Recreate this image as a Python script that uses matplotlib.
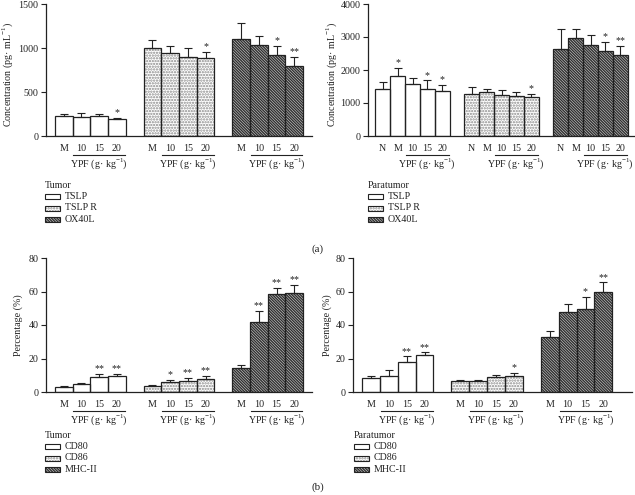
import matplotlib
matplotlib.use("Agg")
import matplotlib.pyplot as plt
import numpy as np
from matplotlib.transforms import blended_transform_factory
from matplotlib.patches import Rectangle

plt.rcParams['font.family'] = ['Liberation Serif', 'DejaVu Serif']
plt.rcParams['hatch.linewidth'] = 1.1
plt.rcParams['mathtext.fontset'] = 'custom'
plt.rcParams['mathtext.rm'] = 'Liberation Serif'

# ---------------- data ----------------
tumor_groups = ["M", "10", "15", "20"]
para_groups_a = ["N", "M", "10", "15", "20"]
para_groups_b = ["M", "10", "15", "20"]

a_series = ["TSLP", "TSLP R", "OX40L"]
b_series = ["CD80", "CD86", "MHC-II"]

# (a) Tumor concentration (pg/mL)
a_tumor_tslp = [227, 219, 223, 189]
a_tumor_tslp_err = [18, 45, 26, 19]
a_tumor_tslpr = [1001, 941, 899, 888]
a_tumor_tslpr_err = [87, 87, 106, 64]
a_tumor_ox40l = [1103, 1039, 918, 797]
a_tumor_ox40l_err = [178, 102, 102, 102]
a_tumor_sig = [["", "", "", "*"], ["", "", "", "*"], ["", "", "*", "**"]]

# (a) Paratumor concentration (pg/mL)
a_para_tslp = [1421, 1814, 1562, 1411, 1360]
a_para_tslp_err = [211, 251, 191, 272, 192]
a_para_tslpr = [1259, 1330, 1239, 1209, 1179]
a_para_tslpr_err = [212, 101, 141, 131, 101]
a_para_ox40l = [2640, 2972, 2761, 2589, 2469]
a_para_ox40l_err = [594, 272, 302, 262, 261]
a_para_sig = [["", "*", "", "*", "*"], ["", "", "", "", "*"], ["", "", "", "*", "**"]]

# (b) Tumor percentage (%)
b_tumor_cd80 = [3.0, 4.6, 9.2, 9.8]
b_tumor_cd80_err = [0.8, 0.8, 1.6, 1.2]
b_tumor_cd86 = [3.6, 6.2, 6.8, 7.6]
b_tumor_cd86_err = [0.6, 1.2, 1.4, 2.0]
b_tumor_mhc = [14.4, 42.0, 58.4, 59.0]
b_tumor_mhc_err = [1.8, 6.2, 3.6, 5.0]
b_tumor_sig = [["", "", "**", "**"], ["", "*", "**", "**"], ["", "**", "**", "**"]]

# (b) Paratumor percentage (%)
b_para_cd80 = [8.4, 9.4, 18.0, 21.8]
b_para_cd80_err = [1.4, 3.6, 3.2, 1.8]
b_para_cd86 = [6.6, 6.6, 8.8, 9.6]
b_para_cd86_err = [0.8, 0.6, 1.6, 1.6]
b_para_mhc = [32.6, 47.6, 49.4, 60.0]
b_para_mhc_err = [3.6, 4.8, 7.2, 5.4]
b_para_sig = [["", "", "**", "**"], ["", "", "", "*"], ["", "", "*", "**"]]

W, H = 635, 495
fig = plt.figure(figsize=(W / 100, H / 100), dpi=100)

FS = 7.2
hatches = [None, '......', '\\' * 12]
hatch_cols = [None, '#8a8a8a', '#333333']


def add_ax(x0, x1, ytop, ybot):
    return fig.add_axes([x0 / W, 1 - ybot / H, (x1 - x0) / W, (ybot - ytop) / H])


def draw_panel(ax, cats, series_vals, series_errs, sigs, xmax, ymax, yticks,
               ylabel):
    n = len(cats)
    ax_h_px = ax.get_position().height * H
    all_pos = []
    all_labels = []
    for g, (vals, errs, sig) in enumerate(zip(series_vals, series_errs, sigs)):
        start = 0.5 + g * (n + 1)
        pos = start + 0.5 + np.arange(n)
        if hatches[g] is not None:
            ax.bar(pos, vals, width=1.0, color='white', hatch=hatches[g],
                   edgecolor=hatch_cols[g], linewidth=0, zorder=2)
        ax.bar(pos, vals, width=1.0, color='none', edgecolor='#222222',
               linewidth=0.9, zorder=3)
        ax.errorbar(pos, vals, yerr=[np.zeros(n), errs], fmt='none',
                    ecolor='#222222', elinewidth=0.8, capsize=2.6,
                    capthick=0.8, zorder=4)
        for p, v, e, s in zip(pos, vals, errs, sig):
            if s:
                ax.annotate(s, (p, v + e), xytext=(0, 0.5),
                            textcoords='offset points', ha='center',
                            va='bottom', fontsize=FS, color='#222222')
        all_pos.extend(pos)
        all_labels.extend(cats)
        tr = blended_transform_factory(ax.transData, ax.transAxes)
        dose_idx = [i for i, c in enumerate(cats) if c not in ("N", "M")]
        xl = pos[dose_idx[0]] - 0.45
        xr = pos[dose_idx[-1]] + 0.45
        yline = -19 / ax_h_px
        ax.plot([xl, xr], [yline, yline], transform=tr, color='#222222',
                lw=0.8, clip_on=False)
        ax.text((xl + xr) / 2, -28 / ax_h_px, "YPF (g\u00b7 kg$^{-1}$)",
                transform=tr, ha='center', va='center', fontsize=FS,
                color='#222222')
    ax.set_xticks(all_pos, all_labels)
    ax.tick_params(axis='x', length=0, pad=5.5, labelsize=FS,
                   colors='#222222')
    ax.set_xlim(0, xmax)
    ax.set_ylim(0, ymax)
    ax.set_yticks(yticks)
    ax.tick_params(axis='y', length=3.5, width=0.8, labelsize=FS, pad=2,
                   colors='#222222')
    for s in ['top', 'right']:
        ax.spines[s].set_visible(False)
    for s in ['left', 'bottom']:
        ax.spines[s].set_linewidth(0.9)
        ax.spines[s].set_color('#222222')
    ax.set_ylabel(ylabel, fontsize=FS, color='#222222')


def legend(x, y, title, names):
    fig.text(x / W, 1 - y / H, title, fontsize=FS, ha='left', va='center',
             color='#222222')
    for i, name in enumerate(names):
        yy = y + 11.5 * (i + 1)
        if hatches[i] is not None:
            fig.patches.append(Rectangle((x / W, 1 - (yy + 2.5) / H), 15 / W,
                                         5 / H, transform=fig.transFigure,
                                         facecolor='white', hatch=hatches[i],
                                         edgecolor=hatch_cols[i], lw=0))
        fig.patches.append(Rectangle((x / W, 1 - (yy + 2.5) / H), 15 / W,
                                     5 / H, transform=fig.transFigure,
                                     facecolor='none', edgecolor='#222222',
                                     lw=0.8))
        fig.text((x + 20) / W, 1 - yy / H, name, fontsize=FS, ha='left',
                 va='center', color='#222222')


conc_label = "Concentration (pg\u00b7 mL$^{-1}$)"

ax1 = add_ax(46, 312, 4, 136)
draw_panel(ax1, tumor_groups, [a_tumor_tslp, a_tumor_tslpr, a_tumor_ox40l],
           [a_tumor_tslp_err, a_tumor_tslpr_err, a_tumor_ox40l_err],
           a_tumor_sig, 15.0, 1500, [0, 500, 1000, 1500], conc_label)

ax2 = add_ax(368, 635, 4, 136)
draw_panel(ax2, para_groups_a, [a_para_tslp, a_para_tslpr, a_para_ox40l],
           [a_para_tslp_err, a_para_tslpr_err, a_para_ox40l_err],
           a_para_sig, 18.0, 4000, [0, 1000, 2000, 3000, 4000], conc_label)

ax3 = add_ax(46, 312, 258, 392)
draw_panel(ax3, tumor_groups, [b_tumor_cd80, b_tumor_cd86, b_tumor_mhc],
           [b_tumor_cd80_err, b_tumor_cd86_err, b_tumor_mhc_err],
           b_tumor_sig, 15.0, 80, [0, 20, 40, 60, 80], "Percentage (%)")

ax4 = add_ax(353, 632, 258, 392)
draw_panel(ax4, para_groups_b, [b_para_cd80, b_para_cd86, b_para_mhc],
           [b_para_cd80_err, b_para_cd86_err, b_para_mhc_err],
           b_para_sig, 15.6, 80, [0, 20, 40, 60, 80], "Percentage (%)")

for ax, xpx, ypx in [(ax1, 8, 75), (ax2, 332, 75), (ax3, 18, 325),
                     (ax4, 327, 325)]:
    p = ax.get_position()
    left_px = p.x0 * W
    width_px = p.width * W
    top_px = (1 - p.y1) * H
    height_px = p.height * H
    ax.yaxis.set_label_coords((xpx - left_px) / width_px,
                              1 - (ypx - top_px) / height_px)
    ax.yaxis.label.set_va('center')

legend(45, 185, "Tumor", a_series)
legend(368, 185, "Paratumor", a_series)
legend(45, 435, "Tumor", b_series)
legend(354, 435, "Paratumor", b_series)

fig.text(318 / W, 1 - 249 / H, "(a)", fontsize=7.8, ha='center', va='center',
         color='#222222')
fig.text(318 / W, 1 - 487 / H, "(b)", fontsize=7.8, ha='center', va='center',
         color='#222222')

fig.savefig("out.png", dpi=100, facecolor='white')
